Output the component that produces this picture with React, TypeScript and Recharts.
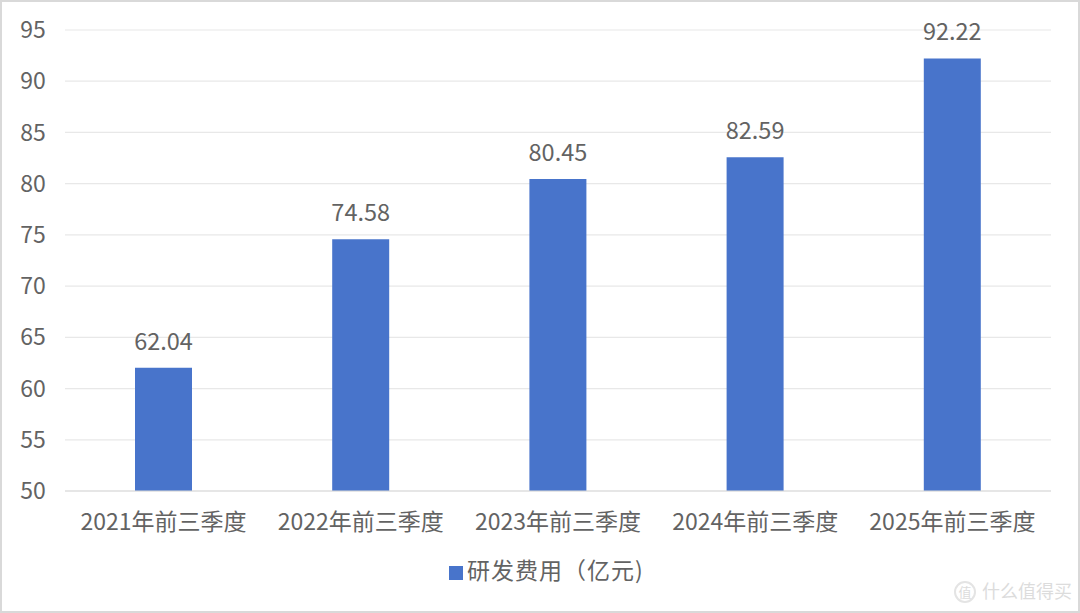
import React from "react";
import { BarChart, Bar, XAxis, YAxis, CartesianGrid, Legend, LabelList } from "recharts";

const categories = ["2021年前三季度", "2022年前三季度", "2023年前三季度", "2024年前三季度", "2025年前三季度"];
const rdExpense = [62.04, 74.58, 80.45, 82.59, 92.22];
const yTicks = [50, 55, 60, 65, 70, 75, 80, 85, 90, 95];
const seriesName = "研发费用（亿元)";
const watermark = "什么值得买";

const rows = categories.map((name, i) => ({ name, value: rdExpense[i] }));
const FONT = '"Noto Sans CJK SC", "Noto Sans", sans-serif';
const TEXT = "#636363";

export default function App() {
  return (
    <div style={{ position: "absolute", left: 0, top: 0, width: 1080, height: 613, background: "#fff", overflow: "hidden", fontFamily: FONT }}>
      <BarChart width={1080} height={613} data={rows} margin={{ top: 30, right: 29, bottom: 58, left: 0 }}>
        <CartesianGrid vertical={false} stroke="#e8e8e8" strokeWidth={1.2} />
        <XAxis dataKey="name" tickLine={false} axisLine={{ stroke: "#d9d9d9", strokeWidth: 1.2 }} interval={0} tickMargin={17}
          tick={{ fill: TEXT, fontSize: 23, fontFamily: FONT }} />
        <YAxis type="number" domain={[50, 95]} ticks={yTicks} width={65} tickLine={false} axisLine={false} tickMargin={20}
          tick={{ fill: TEXT, fontSize: 23, fontFamily: FONT, textAnchor: "middle", dx: -6 }} />
        <Bar dataKey="value" name={seriesName} fill="#4874cb" barSize={57} isAnimationActive={false}>
          <LabelList dataKey="value" position="top" offset={18} fill={TEXT} fontSize={23.5} fontFamily={FONT} formatter={(v: number) => v.toFixed(2)} />
        </Bar>
        <Legend iconType="square" iconSize={14} verticalAlign="bottom"
          wrapperStyle={{ bottom: 27, left: 26, fontSize: 23, letterSpacing: 1, fontFamily: FONT }}
          formatter={(v: string) => <span style={{ color: TEXT }}>{v}</span>} />
      </BarChart>
      <div style={{ position: "absolute", left: 0, top: 0, width: 1076, height: 609, border: "2px solid #d9d9d9", pointerEvents: "none" }} />
      <div style={{ position: "absolute", left: 982, top: 578, fontSize: 18, lineHeight: "24px", color: "#dcdcdc", whiteSpace: "nowrap" }}>{watermark}</div>
      <div style={{ position: "absolute", left: 954, top: 581, width: 18, height: 18, border: "2px solid #e4e4e4", borderRadius: "50%", fontSize: 13, lineHeight: "18px", textAlign: "center", color: "#dcdcdc" }}>值</div>
    </div>
  );
}
